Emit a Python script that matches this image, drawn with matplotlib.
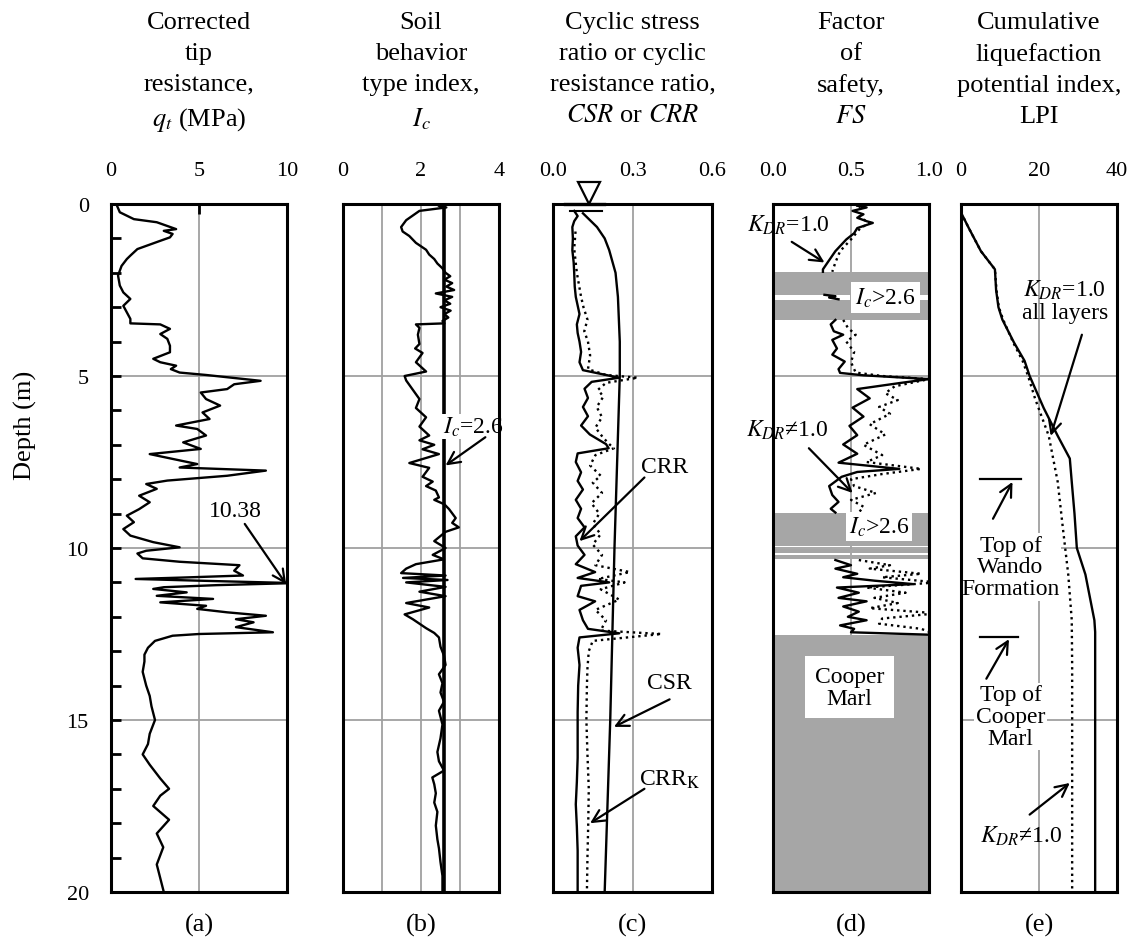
import numpy as np
import matplotlib
matplotlib.use("Agg")
import matplotlib.pyplot as plt

plt.rcParams['font.family'] = ['Liberation Serif', 'DejaVu Serif']
plt.rcParams['mathtext.fontset'] = 'stix'

nan = np.nan

# (a) corrected tip resistance qt (MPa)
qt_depth = [0.00, 0.24, 0.44, 0.53, 0.73, 0.78, 0.87, 0.97, 1.07, 1.31,
            1.50, 1.60, 1.80, 2.08, 2.37, 2.57, 2.76, 2.96, 3.15, 3.34,
            3.47, 3.50, 3.63, 3.78, 3.92, 4.12, 4.31, 4.50, 4.60, 4.70,
            4.80, 4.90, 4.97, 5.14, 5.24, 5.38, 5.48, 5.67, 5.86, 6.06,
            6.25, 6.44, 6.54, 6.73, 6.93, 7.12, 7.27, 7.41, 7.56, 7.66,
            7.75, 7.90, 8.04, 8.14, 8.28, 8.48, 8.67, 8.87, 9.06, 9.25,
            9.45, 9.64, 9.83, 9.98, 10.08, 10.16, 10.30, 10.40, 10.50, 10.66,
            10.80, 10.86, 10.90, 10.95, 11.02, 11.08, 11.14, 11.19, 11.29, 11.39,
            11.48, 11.58, 11.68, 11.77, 11.87, 11.97, 12.07, 12.16, 12.30, 12.45,
            12.50, 12.55, 12.70, 12.90, 13.10, 13.30, 13.60, 13.80, 14.00, 14.30,
            14.60, 15.00, 15.40, 15.70, 16.00, 16.30, 16.70, 17.00, 17.20, 17.50,
            17.90, 18.30, 18.70, 19.20, 19.60, 20.00]
qt_val = [0.3, 0.5, 1.3, 2.6, 3.7, 3.0, 3.5, 3.35, 2.8, 1.5,
          1.1, 0.9, 0.6, 0.4, 0.5, 0.7, 1.1, 0.7, 0.9, 1.1,
          1.1, 2.8, 3.35, 2.8, 3.2, 3.35, 3.35, 2.4, 2.8, 3.7,
          3.4, 3.9, 5.4, 8.5, 7.0, 6.6, 5.1, 5.4, 6.2, 5.2,
          5.6, 3.7, 4.9, 5.4, 4.1, 5.1, 2.2, 3.5, 4.9, 3.9,
          8.8, 6.6, 3.2, 2.0, 2.6, 1.6, 2.2, 1.6, 0.9, 1.3,
          0.7, 1.1, 2.4, 3.9, 2.0, 1.5, 1.8, 3.9, 7.3, 7.0,
          7.5, 4.0, 1.4, 5.0, 10.38, 6.0, 3.0, 2.4, 4.3, 2.6,
          5.8, 2.8, 5.4, 4.9, 6.6, 8.8, 7.1, 8.1, 7.1, 9.2,
          5.0, 3.5, 2.5, 2.1, 1.9, 1.9, 1.8, 1.9, 2.0, 2.2,
          2.3, 2.5, 2.2, 2.1, 1.8, 2.2, 2.8, 3.3, 2.8, 2.4,
          3.3, 2.6, 2.97, 2.6, 2.8, 3.0]

# (b) soil behavior type index Ic
ic_depth = [0.00, 0.05, 0.10, 0.20, 0.47, 0.67, 0.80, 0.93, 1.13, 1.33,
            1.47, 1.60, 1.73, 1.87, 2.00, 2.10, 2.20, 2.30, 2.40, 2.50,
            2.60, 2.70, 2.80, 2.90, 3.00, 3.10, 3.20, 3.30, 3.40, 3.47,
            3.50, 3.60, 3.80, 4.07, 4.20, 4.33, 4.60, 4.87, 5.00, 5.13,
            5.40, 5.67, 5.93, 6.20, 6.47, 6.73, 6.87, 7.00, 7.13, 7.27,
            7.53, 7.67, 7.93, 8.07, 8.20, 8.33, 8.53, 8.60, 8.73, 8.87,
            9.13, 9.27, 9.40, 9.53, 9.80, 10.00, 10.20, 10.33, 10.47, 10.60,
            10.73, 10.80, 10.87, 10.93, 11.00, 11.13, 11.27, 11.40, 11.60, 11.73,
            11.93, 12.07, 12.20, 12.33, 12.47, 12.60, 12.87, 13.13, 13.40, 13.67,
            13.93, 14.20, 14.47, 14.73, 15.13, 15.53, 15.93, 16.20, 16.47, 16.67,
            16.87, 17.13, 17.40, 17.67, 18.07, 18.47, 18.73, 19.13, 19.53, 20.00]
ic_val = [2.60, 2.45, 2.65, 1.96, 1.62, 1.49, 1.53, 1.70, 1.87, 2.13,
          2.21, 2.34, 2.42, 2.55, 2.63, 2.75, 2.60, 2.80, 2.65, 2.85,
          2.38, 2.80, 2.60, 2.75, 2.50, 2.76, 2.60, 2.70, 2.55, 2.60,
          1.87, 1.96, 1.92, 1.96, 1.85, 2.04, 1.87, 2.13, 1.58, 1.62,
          1.79, 1.96, 1.87, 2.13, 1.96, 2.21, 1.96, 2.34, 2.04, 2.46,
          1.70, 2.21, 2.04, 2.30, 2.13, 2.38, 2.46, 2.34, 2.60, 2.72,
          2.89, 2.80, 2.97, 2.63, 2.34, 2.63, 2.30, 2.59, 1.87, 1.62,
          1.49, 2.63, 1.54, 2.68, 1.62, 2.63, 1.96, 2.63, 1.62, 2.21,
          1.58, 1.79, 1.96, 2.13, 2.34, 2.46, 2.50, 2.59, 2.63, 2.46,
          2.55, 2.50, 2.59, 2.46, 2.55, 2.50, 2.42, 2.46, 2.59, 2.29,
          2.34, 2.38, 2.34, 2.42, 2.38, 2.42, 2.46, 2.50, 2.55, 2.55]

# (c) CSR, CRR, CRR_K
csr_depth = [0.27, 0.67, 1.00, 1.34, 2.00, 2.70, 4.00, 5.00, 10.00, 15.00, 20.00]
csr_val = [0.113, 0.166, 0.195, 0.212, 0.236, 0.245, 0.252, 0.252, 0.232, 0.216, 0.195]

crr_depth = [0.20, 0.35, 0.50, 0.67, 1.00, 1.34, 1.70, 2.00, 2.40, 2.70,
             3.20, 3.50, 3.75, 4.00, 4.30, 4.60, 4.83, 4.97, 5.05, 5.17,
             5.37, 5.64, 5.90, 6.17, 6.44, 6.70, 6.98, 7.10, 7.25, 7.50,
             7.80, 8.05, 8.30, 8.60, 8.86, 9.13, 9.40, 9.66, 9.93, 10.20,
             10.47, 10.70, 10.87, 11.00, 11.10, 11.40, 11.55, 11.80, 12.10, 12.35,
             12.48, 12.60, 12.90, 13.40, 14.00, 14.77, 15.50, 16.10, 16.80, 17.45,
             18.10, 18.80, 19.40, 20.00]
crr_val = [0.080, 0.093, 0.080, 0.073, 0.075, 0.073, 0.078, 0.080, 0.082, 0.086,
           0.100, 0.090, 0.093, 0.100, 0.106, 0.100, 0.113, 0.200, 0.250, 0.146,
           0.119, 0.132, 0.113, 0.132, 0.106, 0.139, 0.200, 0.210, 0.093, 0.086,
           0.106, 0.093, 0.113, 0.086, 0.106, 0.093, 0.119, 0.086, 0.093, 0.119,
           0.086, 0.159, 0.093, 0.212, 0.106, 0.093, 0.159, 0.100, 0.113, 0.132,
           0.250, 0.100, 0.093, 0.100, 0.095, 0.093, 0.093, 0.093, 0.090, 0.086,
           0.090, 0.093, 0.093, 0.093]

crrk_depth = [0.80, 1.30, 2.00, 2.70, 3.00, 3.36, 3.70, 4.00, 4.40, 4.80,
              4.97, 5.05, 5.20, 5.40, 5.60, 5.90, 6.20, 6.50, 6.80, 7.00,
              7.10, 7.30, 7.60, 7.90, 8.10, 8.40, 8.70, 9.00, 9.30, 9.60,
              9.90, 10.20, 10.50, 10.70, 10.90, 11.00, 11.20, 11.50, 11.80, 12.10,
              12.40, 12.50, 12.70, 13.00, 13.50, 14.00, 15.00, 16.00, 17.00, 18.00,
              19.00, 20.00]
crrk_val = [0.085, 0.080, 0.090, 0.106, 0.115, 0.130, 0.118, 0.132, 0.140, 0.132,
            0.200, 0.320, 0.200, 0.170, 0.190, 0.165, 0.185, 0.160, 0.190, 0.215,
            0.230, 0.160, 0.140, 0.180, 0.150, 0.185, 0.145, 0.175, 0.150, 0.180,
            0.150, 0.185, 0.160, 0.290, 0.170, 0.270, 0.180, 0.250, 0.160, 0.200,
            0.180, 0.410, 0.150, 0.135, 0.130, 0.128, 0.126, 0.130, 0.135, 0.133,
            0.130, 0.128]

# (d) factor of safety
fs1_depth = [0.05, 0.10, 0.20, 0.30, 0.40, 0.50, 0.55, 0.70, 0.85, 1.03,
             1.37, 1.70, 1.90, 1.97, 2.30, 2.64, 2.68, 2.72, 2.77, 3.00,
             3.37, 3.50, 3.70, 3.80, 3.95, 4.20, 4.38, 4.58, 4.80, 4.91,
             4.98, 5.09, 5.20, 5.38, 5.65, 5.92, 6.18, 6.45, 6.72, 6.99,
             7.26, 7.52, 7.70, 7.79, 7.93, 8.20, 8.46, 8.66, 8.86, 8.97,
             9.60, 10.35, 10.50, 10.60, 10.75, 10.85, 10.95, 11.05, 11.15, 11.30,
             11.45, 11.55, 11.70, 11.85, 12.00, 12.10, 12.25, 12.35, 12.45, 12.52]
fs1_val = [0.54, 0.60, 0.51, 0.58, 0.54, 0.60, 0.64, 0.54, 0.52, 0.47,
           0.40, 0.35, 0.32, 0.32, nan, 0.33, 0.40, 0.36, 0.42, nan,
           0.40, 0.37, 0.39, 0.45, 0.38, 0.41, 0.38, 0.46, 0.42, 0.43,
           0.58, 1.00, 0.82, 0.54, 0.62, 0.51, 0.58, 0.49, 0.54, 0.45,
           0.54, 0.42, 0.81, 0.54, 0.44, 0.36, 0.38, 0.42, 0.37, 0.40,
           nan, 0.40, 0.50, 0.40, 0.54, 0.45, 0.65, 0.90, 0.41, 0.55,
           0.42, 0.60, 0.45, 0.55, 0.48, 0.60, 0.43, 0.52, 0.50, 1.00]

fs2_depth = [0.05, 0.20, 0.40, 0.55, 0.70, 1.03, 1.37, 1.70, 1.97, 2.50,
             3.37, 3.60, 3.80, 4.00, 4.30, 4.60, 4.90, 5.00, 5.09, 5.30,
             5.50, 5.70, 5.90, 6.10, 6.40, 6.70, 7.00, 7.30, 7.50, 7.70,
             7.85, 8.00, 8.20, 8.40, 8.60, 8.80, 8.97, 9.60, 10.35, 10.50,
             10.60, 10.75, 10.85, 11.00, 11.15, 11.30, 11.45, 11.60, 11.75, 11.90,
             12.05, 12.20, 12.35, 12.52]
fs2_val = [0.56, 0.53, 0.56, 0.62, 0.56, 0.50, 0.43, 0.40, 0.38, nan,
           0.45, 0.48, 0.53, 0.47, 0.52, 0.50, 0.53, 0.70, 1.00, 0.78,
           0.72, 0.80, 0.68, 0.75, 0.62, 0.72, 0.58, 0.70, 0.60, 0.95,
           0.70, 0.50, 0.52, 0.66, 0.50, 0.58, 0.55, nan, 0.55, 0.75,
           0.62, 0.95, 0.70, 1.05, 0.60, 0.85, 0.65, 0.80, 0.62, 1.05,
           0.70, 0.68, 0.95, 1.05]

# gray layers (Ic > 2.6 and Cooper Marl)
band_top = [1.97, 2.78, 8.97, 10.02, 10.20, 12.54]
band_bot = [2.64, 3.37, 9.95, 10.14, 10.33, 20.00]

# (e) cumulative LPI
lpi1_depth = [0.25, 0.70, 1.37, 1.90, 2.50, 3.00, 3.36, 4.03, 4.56, 5.00,
              5.93, 6.74, 7.40, 8.08, 9.00, 10.00, 10.77, 12.10, 12.44, 20.00]
lpi1_val = [0.0, 2.0, 5.1, 8.7, 9.0, 9.6, 10.6, 13.6, 16.3, 17.6,
            21.2, 24.8, 27.9, 28.4, 29.1, 29.7, 31.9, 34.2, 34.4, 34.4]
lpi2_depth = [0.25, 0.70, 1.37, 1.90, 2.50, 3.00, 3.36, 4.03, 4.56, 5.00,
              5.66, 6.74, 8.08, 9.40, 10.77, 12.10, 13.40, 20.00]
lpi2_val = [0.0, 2.0, 5.1, 8.7, 9.1, 9.7, 10.8, 13.4, 15.8, 17.2,
            19.0, 22.5, 24.8, 26.1, 27.5, 28.4, 28.5, 28.5]

titles = ["Corrected\ntip\nresistance,\n$q_t$ (MPa)",
          "Soil\nbehavior\ntype index,\n$I_c$",
          "Cyclic stress\nratio or cyclic\nresistance ratio,\n$CSR$ or $CRR$",
          "Factor\nof\nsafety,\n$FS$",
          "Cumulative\nliquefaction\npotential index,\nLPI"]
panel_tags = ["(a)", "(b)", "(c)", "(d)", "(e)"]

W, H = 1146, 945
GRID = '#a0a0a0'
BAND = '#a6a6a6'
LW = 1.7

fig = plt.figure(figsize=(W / 100, H / 100), dpi=100)


def make_ax(x0, x1, xlim, ticks, labels, vgrid):
    ax = fig.add_axes([x0 / W, 1 - 893 / H, (x1 - x0) / W, (893 - 205) / H])
    ax.set_xlim(*xlim)
    ax.set_ylim(20, 0)
    ax.xaxis.tick_top()
    ax.set_xticks(ticks)
    ax.set_xticklabels(labels)
    ax.tick_params(axis='x', length=0, pad=17, labelsize=16)
    ax.set_yticks([])
    for v in vgrid:
        ax.axvline(v, color=GRID, lw=1.3, zorder=1)
    for h in [5, 10, 15]:
        ax.axhline(h, color=GRID, lw=1.3, zorder=1)
    for s in ax.spines.values():
        s.set_linewidth(2.2)
        s.set_zorder(5)
    return ax


def arrow(ax, tail, head):
    ax.annotate('', xy=head, xytext=tail,
                arrowprops=dict(arrowstyle='->', color='k', lw=1.6,
                                mutation_scale=22, shrinkA=0, shrinkB=0),
                annotation_clip=False, zorder=6)


ax_a = make_ax(111, 287, (0, 10), [0, 5, 10], ['0', '5', '10'], [5])
ax_b = make_ax(343, 499, (0, 4), [0, 2, 4], ['0', '2', '4'], [1, 2, 3])
ax_c = make_ax(553, 712, (0, 0.6), [0, 0.3, 0.6], ['0.0', '0.3', '0.6'], [0.3])
ax_d = make_ax(773, 929, (0, 1.0), [0, 0.5, 1.0], ['0.0', '0.5', '1.0'], [0.5])
ax_e = make_ax(961, 1117, (0, 40), [0, 20, 40], ['0', '20', '40'], [20])
axes = [ax_a, ax_b, ax_c, ax_d, ax_e]

# depth axis on panel (a)
ax_a.set_yticks([0, 5, 10, 15, 20])
ax_a.set_yticks(np.arange(1, 20), minor=True)
ax_a.tick_params(axis='y', which='both', direction='in', length=7, width=2,
                 pad=16, labelsize=16)
ax_a.tick_params(axis='x', direction='in', length=7, width=2)

# (a)
ax_a.plot(qt_val, qt_depth, color='k', lw=LW, zorder=3)
ax_a.text(7.05, 8.9, "10.38", fontsize=17, ha='center', va='center')
arrow(ax_a, (7.6, 9.3), (9.95, 11.05))

# (b)
ax_b.axvline(2.6, color='k', lw=2.6, zorder=3)
ax_b.plot(ic_val, ic_depth, color='k', lw=LW, zorder=3)
ax_b.text(3.33, 6.47, "$I_c$=2.6", fontsize=17, ha='center', va='center',
          bbox=dict(fc='white', ec='none', pad=0.5), zorder=4)
arrow(ax_b, (3.65, 6.78), (2.63, 7.6))

# (c)
ax_c.plot(csr_val, csr_depth, color='k', lw=LW, zorder=3)
ax_c.plot(crrk_val, crrk_depth, color='k', lw=LW, ls=':', zorder=3)
ax_c.plot(crr_val, crr_depth, color='k', lw=LW, zorder=3)
ax_c.plot([0.135], [-0.32], marker='v', ms=16, mfc='white', mec='k', mew=1.6,
          clip_on=False, zorder=6)
ax_c.plot([0.045, 0.192], [0.0, 0.0], color='k', lw=2.4, clip_on=False, zorder=6)
ax_c.plot([0.066, 0.185], [0.2, 0.2], color='k', lw=1.5, zorder=6)
ax_c.text(0.42, 7.64, "CRR", fontsize=17, ha='center', va='center')
arrow(ax_c, (0.345, 7.95), (0.10, 9.8))
ax_c.text(0.44, 13.9, "CSR", fontsize=17, ha='center', va='center')
arrow(ax_c, (0.44, 14.4), (0.23, 15.2))
ax_c.text(0.44, 16.7, r"CRR$_{\rm K}$", fontsize=17, ha='center', va='center')
arrow(ax_c, (0.345, 17.0), (0.14, 18.0))

# (d)
for t, b in zip(band_top, band_bot):
    ax_d.axhspan(t, b, color=BAND, lw=0, zorder=2)
ax_d.plot(fs2_val, fs2_depth, color='k', lw=LW, ls=':', zorder=3)
ax_d.plot(fs1_val, fs1_depth, color='k', lw=LW, zorder=3)
ax_d.text(0.72, 2.72, "$I_c$>2.6", fontsize=17, ha='center', va='center',
          bbox=dict(fc='white', ec='none', pad=3), zorder=4)
ax_d.text(0.68, 9.38, "$I_c$>2.6", fontsize=17, ha='center', va='center',
          bbox=dict(fc='white', ec='none', pad=2), zorder=4)
ax_d.text(0.49, 14.05, "Cooper\nMarl", fontsize=17, ha='center', va='center',
          linespacing=1.05, bbox=dict(fc='white', ec='none', pad=7), zorder=4)
ax_d.text(0.10, 0.6, "$K_{DR}$=1.0", fontsize=17, ha='center', va='center', zorder=6)
arrow(ax_d, (0.12, 1.1), (0.33, 1.7))
ax_d.text(0.09, 6.55, "$K_{DR}$\u22601.0", fontsize=17, ha='center', va='center', zorder=6)
arrow(ax_d, (0.23, 7.1), (0.51, 8.4))

# (e)
ax_e.plot(lpi2_val, lpi2_depth, color='k', lw=LW, ls=':', zorder=3)
ax_e.plot(lpi1_val, lpi1_depth, color='k', lw=LW, zorder=3)
ax_e.text(26.6, 2.8, "$K_{DR}$=1.0\nall layers", fontsize=17, ha='center',
          va='center', linespacing=1.1, zorder=4)
arrow(ax_e, (31, 3.8), (23, 6.74))
ax_e.plot([4.9, 15.4], [8.0, 8.0], color='k', lw=1.6, zorder=4)
arrow(ax_e, (8.2, 9.15), (13.2, 8.08))
ax_e.text(12.7, 10.55, "Top of\nWando\nFormation", fontsize=17, ha='center',
          va='center', linespacing=1.05,
          bbox=dict(fc='white', ec='none', pad=1), zorder=4)
ax_e.plot([4.9, 14.5], [12.6, 12.6], color='k', lw=1.6, zorder=4)
arrow(ax_e, (6.5, 13.8), (12.3, 12.65))
ax_e.text(12.7, 14.9, "Top of\nCooper\nMarl", fontsize=17, ha='center',
          va='center', linespacing=1.05,
          bbox=dict(fc='white', ec='none', pad=1), zorder=4)
arrow(ax_e, (17.6, 17.75), (27.9, 16.83))
ax_e.text(15.4, 18.35, "$K_{DR}$\u22601.0", fontsize=17, ha='center',
          va='center', zorder=4)

# titles and panel tags
for ax, title, tag in zip(axes, titles, panel_tags):
    pos = ax.get_position()
    xc = pos.x0 + pos.width / 2
    fig.text(xc, 1 - 12 / H, title, ha='center', va='top', fontsize=19,
             linespacing=1.52)
    fig.text(xc, 1 - 925 / H, tag, ha='center', va='center', fontsize=19)

fig.text(25 / W, 0.55, "Depth (m)", rotation=90, ha='center', va='center',
         fontsize=19)

fig.savefig("out.png", dpi=100)
